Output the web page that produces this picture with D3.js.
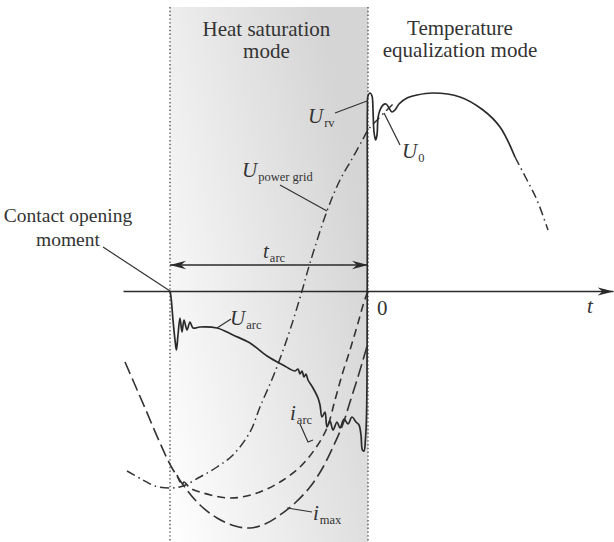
<!DOCTYPE html>
<html>
<head>
<meta charset="utf-8">
<script src="https://cdn.jsdelivr.net/npm/d3@7"></script>
<style>
  body { margin: 0; background: #fff; }
</style>
</head>
<body>
<div id="canvas"></div>
<script>
// t : time (0 = current zero), v : voltage / current, same arbitrary units
const gridVoltage = [
  [-12.05, -9.0], [-11.25, -9.45], [-10.65, -9.75], [-9.9, -9.85], [-9.25, -9.75],
  [-8.4, -9.3], [-7.55, -8.8], [-6.75, -8.2], [-5.9, -7.05], [-5.4, -5.8],
  [-4.65, -4.05], [-3.9, -1.95], [-3.3, 0], [-2.9, 1.4], [-2.05, 4.0],
  [-1.4, 5.55], [-0.8, 6.6], [-0.25, 7.6], [0, 8.05], [0.5, 8.6],
  [1.25, 9.35], [1.95, 9.65], [2.45, 9.8], [3.25, 9.9], [4.6, 9.7],
  [5.75, 9.05], [6.6, 8.2], [7.35, 6.7], [7.95, 5.55], [8.45, 4.55], [9.0, 3.05]
];

const arcVoltage = [
  [-9.9, 0], [-9.85, -0.3], [-9.75, -1.45], [-9.65, -2.45], [-9.58, -2.95],
  [-9.5, -2.2], [-9.4, -1.35], [-9.3, -2.05], [-9.2, -1.45], [-9.05, -1.95],
  [-8.9, -1.55], [-8.75, -1.85], [-8.4, -1.8], [-7.55, -1.85], [-6.75, -2.2],
  [-5.9, -2.6], [-5.05, -3.25], [-4.25, -3.7], [-3.65, -4.0], [-3.5, -3.9],
  [-3.4, -4.15], [-3.3, -4.0], [-3.2, -4.3], [-3.1, -4.15], [-3.0, -4.45],
  [-2.75, -4.85], [-2.5, -5.35], [-2.4, -5.7], [-2.3, -6.3], [-2.15, -6.05],
  [-2.05, -6.8], [-1.9, -6.5], [-1.75, -6.95], [-1.55, -6.55], [-1.4, -6.85],
  [-1.2, -6.4], [-1.0, -6.65], [-0.8, -6.3], [-0.6, -6.55], [-0.45, -6.7],
  [-0.35, -7.2], [-0.28, -7.95], [-0.2, -8.0], [-0.13, -7.45], [-0.08, -6.45],
  [-0.05, -4.45]
];

const recoveryVoltage = [
  [-0.05, -4.45], [-0.03, 4.55], [-0.03, 9.05], [0, 9.75], [0.1, 9.9],
  [0.2, 9.75], [0.25, 9.05], [0.3, 7.95], [0.38, 7.55], [0.45, 7.8],
  [0.5, 8.65], [0.6, 9.05], [0.75, 9.3], [0.9, 9.35], [1.05, 9.15],
  [1.2, 8.95], [1.35, 9.05], [1.55, 9.35], [1.95, 9.65], [2.45, 9.8],
  [3.25, 9.9], [4.6, 9.7], [5.75, 9.05], [6.6, 8.2], [7.35, 6.7]
];

const maxCurrent = [
  [-12.15, -3.55], [-11.65, -4.7], [-11.15, -5.85], [-10.4, -7.6], [-9.8, -8.85],
  [-9.05, -9.95], [-8.4, -10.7], [-7.55, -11.35], [-6.65, -11.75], [-5.9, -11.85],
  [-5.15, -11.65], [-4.4, -11.2], [-3.65, -10.6], [-2.9, -9.8], [-2.3, -8.9],
  [-1.75, -7.8], [-1.25, -6.65], [-0.9, -5.55], [-0.55, -4.45], [-0.25, -3.45], [0, -2.6]
];

// branches off i_max just after contact opening (small kink)
const arcCurrent = [
  [-9.55, -9.2], [-9.3, -9.7], [-9.2, -9.55], [-8.9, -9.85], [-8.4, -10.05],
  [-7.65, -10.25], [-7.0, -10.35], [-6.3, -10.3], [-5.4, -10.05], [-4.4, -9.55],
  [-3.4, -8.8], [-2.65, -7.9], [-2.05, -6.85], [-1.65, -5.45], [-1.3, -4.2],
  [-0.9, -2.95], [-0.5, -1.6], [-0.2, -0.55], [0, 0]
];

const contactOpening = -9.9;
const currentZero = 0;
const modeTitles = [["Heat saturation", "mode"], ["Temperature", "equalization mode"]];

const width = 614, height = 542;
const serif = "'Liberation Serif', 'Times New Roman', serif";

const x = d3.scaleLinear().domain([-12.25, 12.25]).range([123, 613]);
const y = d3.scaleLinear().domain([-12.5, 14.5]).range([541, 1]);

const svg = d3.select("#canvas").append("svg")
  .attr("width", width)
  .attr("height", height)
  .style("font-family", serif);

const defs = svg.append("defs");

const grad = defs.append("linearGradient")
  .attr("id", "shade")
  .attr("x1", "0%").attr("y1", "100%")
  .attr("x2", "100%").attr("y2", "45%");
grad.append("stop").attr("offset", "0%").attr("stop-color", "#ffffff");
grad.append("stop").attr("offset", "100%").attr("stop-color", "#d5d5d5");

// slim notched arrow head
function arrowMarker(id, orient) {
  defs.append("marker")
    .attr("id", id)
    .attr("markerUnits", "userSpaceOnUse")
    .attr("viewBox", "-16 -5 17 10")
    .attr("refX", 0).attr("refY", 0)
    .attr("markerWidth", 17).attr("markerHeight", 10)
    .attr("orient", orient)
    .append("path")
    .attr("d", "M0,0 L-16,-4.2 L-11,0 L-16,4.2 Z")
    .attr("fill", "#2a2a2a");
}
arrowMarker("arrow", "auto");
arrowMarker("arrowStart", "auto-start-reverse");

// shaded heat saturation band
svg.append("rect")
  .attr("x", x(contactOpening))
  .attr("y", 7)
  .attr("width", x(currentZero) - x(contactOpening))
  .attr("height", height - 7)
  .attr("fill", "url(#shade)");

// dotted boundaries
[contactOpening, currentZero].forEach(function(t) {
  svg.append("line")
    .attr("x1", x(t)).attr("x2", x(t))
    .attr("y1", 7).attr("y2", height)
    .attr("stroke", "#555")
    .attr("stroke-width", 1.4)
    .attr("stroke-dasharray", "1.4,2.4");
});

const smooth = d3.line()
  .x(function(d) { return x(d[0]); })
  .y(function(d) { return y(d[1]); })
  .curve(d3.curveCatmullRom.alpha(0.5));

const stroke = "#333";

// power grid voltage, dash-dot, hidden under the recovery voltage
const gridBefore = gridVoltage.filter(function(d) { return d[0] <= 1.25; });
const gridAfter = gridVoltage.filter(function(d) { return d[0] >= 7.35; });
[gridBefore, gridAfter].forEach(function(seg) {
  svg.append("path")
    .datum(seg)
    .attr("d", smooth)
    .attr("fill", "none")
    .attr("stroke", stroke)
    .attr("stroke-width", 1.5)
    .attr("stroke-dasharray", "9,4,1.5,4");
});

svg.append("path")
  .datum(maxCurrent)
  .attr("d", smooth)
  .attr("fill", "none")
  .attr("stroke", stroke)
  .attr("stroke-width", 1.6)
  .attr("stroke-dasharray", "13,5");

svg.append("path")
  .datum(arcCurrent)
  .attr("d", smooth)
  .attr("fill", "none")
  .attr("stroke", stroke)
  .attr("stroke-width", 1.6)
  .attr("stroke-dasharray", "8,5");

[arcVoltage, recoveryVoltage].forEach(function(seg) {
  svg.append("path")
    .datum(seg)
    .attr("d", smooth)
    .attr("fill", "none")
    .attr("stroke", "#2a2a2a")
    .attr("stroke-width", 1.7)
    .attr("stroke-linejoin", "round");
});

// time axis, no ticks, arrow at the end
const xAxis = d3.axisBottom(x).tickValues([]).tickSizeOuter(0);
const axisG = svg.append("g")
  .attr("transform", "translate(0," + y(0) + ")")
  .call(xAxis);
axisG.select(".domain")
  .attr("stroke", "#2a2a2a")
  .attr("stroke-width", 1.5)
  .attr("marker-end", "url(#arrow)");

// arc duration arrow
svg.append("line")
  .attr("x1", x(contactOpening)).attr("x2", x(currentZero))
  .attr("y1", y(1.3)).attr("y2", y(1.3))
  .attr("stroke", "#2a2a2a")
  .attr("stroke-width", 1.4)
  .attr("marker-start", "url(#arrowStart)")
  .attr("marker-end", "url(#arrow)");

// leader lines
const leaders = [
  [[-13.25, 2.2], [-9.9, 0]],
  [[-1.65, 8.9], [-0.05, 9.5]],
  [[1.6, 7.3], [0.8, 8.9]],
  [[-4.4, 5.3], [-2.05, 4.0]],
  [[-7.55, -1.85], [-6.85, -1.4]],
  [[-3.4, -6.65], [-3.0, -7.55], [-2.75, -7.45]],
  [[-2.8, -11.05], [-4.05, -10.85]]
];
const straight = d3.line()
  .x(function(d) { return x(d[0]); })
  .y(function(d) { return y(d[1]); });
leaders.forEach(function(l) {
  svg.append("path")
    .attr("d", straight(l))
    .attr("fill", "none")
    .attr("stroke", "#333")
    .attr("stroke-width", 1.2);
});

// titles
function textLines(lines, t, v0, dv, size) {
  lines.forEach(function(s, i) {
    svg.append("text")
      .attr("x", x(t))
      .attr("y", y(v0 - i * dv))
      .attr("text-anchor", "middle")
      .style("font-family", serif)
      .attr("font-size", size)
      .attr("fill", "#333")
      .text(s);
  });
}
textLines(modeTitles[0], -5.08, 12.75, 1.1, 21);
textLines(modeTitles[1], 4.6, 12.8, 1.1, 21);
textLines(["Contact opening", "moment"], -15, 3.45, 1.2, 19.5);

// symbol with subscript
function symbol(main, sub, t, v, italic) {
  const tx = svg.append("text")
    .attr("x", x(t))
    .attr("y", y(v))
    .style("font-family", serif)
    .attr("fill", "#333")
    .attr("font-size", 21);
  tx.append("tspan")
    .attr("font-style", italic ? "italic" : "normal")
    .text(main);
  if (sub) {
    tx.append("tspan")
      .attr("font-size", 12.5)
      .attr("dy", 4)
      .attr("dx", 1)
      .text(sub);
  }
}
symbol("U", "rv", -3.0, 8.4, true);
symbol("U", "0", 1.7, 6.65, true);
symbol("U", "power grid", -6.3, 5.7, true);
symbol("U", "arc", -6.9, -1.7, true);
symbol("t", "arc", -5.25, 1.65, true);
symbol("i", "arc", -3.9, -6.45, true);
symbol("i", "max", -2.75, -11.45, true);
symbol("0", null, 0.45, -1.2, false);
symbol("t", null, 10.95, -1.1, true);
</script>
</body>
</html>
